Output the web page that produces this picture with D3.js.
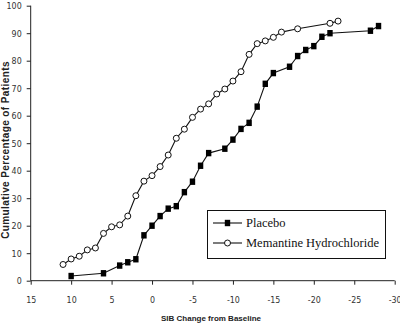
<!DOCTYPE html>
<html>
<head>
<meta charset="utf-8">
<script src="https://cdn.jsdelivr.net/npm/d3@7"></script>
<style>
  body { margin: 0; background: #fff; }
  .tick text { font-family: "Liberation Sans Narrow", "DejaVu Sans Condensed", sans-serif; font-size: 8.8px; fill: #333; }
  .title { font-family: "Liberation Sans", Arial, sans-serif; font-weight: bold; fill: #222; }
  .legend text { font-family: "Liberation Serif", "Times New Roman", serif; font-size: 12.5px; fill: #111; }
</style>
</head>
<body>
<svg width="400" height="327"></svg>
<script>
// SIB change (x) and cumulative percentage (y) for each arm
var placeboX = [10, 6, 4, 3, 2, 1, 0, -1, -2, -3, -4, -5, -6, -7, -9, -10, -11, -12, -13, -14, -15, -17, -18, -19, -20, -21, -22, -27, -28];
var placeboY = [1.7, 2.7, 5.5, 6.7, 7.8, 16.5, 20, 23.5, 26.2, 27.1, 32.2, 36, 41.8, 46.4, 48, 51.3, 55.2, 57.4, 63.3, 71.6, 75.5, 77.8, 81.7, 83.9, 85.3, 88.7, 90, 90.9, 92.6];

var memantineX = [11, 10, 9, 8, 7, 6, 5, 4, 3, 2, 1, 0, -1, -2, -3, -4, -5, -6, -7, -8, -9, -10, -11, -12, -13, -14, -15, -16, -18, -22, -23];
var memantineY = [5.9, 7.9, 8.9, 11.2, 11.9, 17.2, 19.6, 20.3, 23.5, 30.9, 36.2, 38.2, 41.5, 45.7, 51.8, 55.1, 59.4, 62.4, 64.3, 67.9, 69.7, 72.6, 76, 82.3, 86.2, 87.2, 88.5, 90.4, 91.6, 93.6, 94.4];

var xTicks = [15, 10, 5, 0, -5, -10, -15, -20, -25, -30];
var yTicks = [0, 10, 20, 30, 40, 50, 60, 70, 80, 90, 100];
var seriesNames = ["Placebo", "Memantine Hydrochloride"];

var svg = d3.select("svg"),
    margin = {top: 5.7, right: 5.3, bottom: 46.3, left: 30.7},
    width = +svg.attr("width") - (margin.left + margin.right),
    height = +svg.attr("height") - (margin.top + margin.bottom);

var x = d3.scaleLinear().domain([15, -30]).range([0, width]),
    y = d3.scaleLinear().domain([0, 100]).range([height, 0]);

var g = svg.append("g").attr("transform", "translate(" + margin.left + "," + margin.top + ")");

g.append("g")
    .attr("class", "axis axis-x")
    .attr("transform", "translate(0," + height + ")")
    .call(d3.axisBottom(x).tickValues(xTicks).tickSize(4).tickPadding(12).tickFormat(d3.format("d")));

g.append("g")
    .attr("class", "axis axis-y")
    .call(d3.axisLeft(y).tickValues(yTicks).tickSize(4).tickPadding(5));

g.selectAll(".axis path, .axis line").attr("stroke", "#222").attr("stroke-width", 1);
g.selectAll(".axis .domain").attr("d", function() {
    return d3.select(this.parentNode).classed("axis-x") ? "M0,0H" + width : "M0,0V" + height;
});
g.selectAll(".tick text").text(function(d) { return d < 0 ? "-" + (-d) : d; });

var line = d3.line()
    .x(function(d) { return x(d[0]); })
    .y(function(d) { return y(d[1]); });

var placebo = d3.zip(placeboX, placeboY),
    memantine = d3.zip(memantineX, memantineY);

g.append("path").datum(placebo)
    .attr("d", line).attr("fill", "none").attr("stroke", "#111").attr("stroke-width", 1.1);
g.append("path").datum(memantine)
    .attr("d", line).attr("fill", "none").attr("stroke", "#111").attr("stroke-width", 1.1);

g.selectAll(".sq")
    .data(placebo)
    .enter().append("rect")
    .attr("class", "sq")
    .attr("x", function(d) { return x(d[0]) - 2.7; })
    .attr("y", function(d) { return y(d[1]) - 3.2; })
    .attr("width", 5.4)
    .attr("height", 6.4)
    .attr("fill", "#000");

g.selectAll(".circ")
    .data(memantine)
    .enter().append("circle")
    .attr("class", "circ")
    .attr("cx", function(d) { return x(d[0]); })
    .attr("cy", function(d) { return y(d[1]); })
    .attr("r", 3)
    .attr("fill", "#fff")
    .attr("stroke", "#111")
    .attr("stroke-width", 1);

// axis titles
svg.append("text")
    .attr("class", "title")
    .attr("transform", "translate(8.5,150) rotate(-90)")
    .attr("text-anchor", "middle")
    .style("font-size", "10px")
    .style("letter-spacing", "0.4px")
    .text("Cumulative Percentage of Patients");

svg.append("text")
    .attr("class", "title")
    .attr("x", 211)
    .attr("y", 320.5)
    .attr("text-anchor", "middle")
    .style("font-size", "8px")
    .text("SIB Change from Baseline");

// legend
var legend = svg.append("g").attr("class", "legend");
legend.append("rect")
    .attr("x", 207.5).attr("y", 210.5)
    .attr("width", 178).attr("height", 48)
    .attr("fill", "#fff").attr("stroke", "#111").attr("stroke-width", 1);

seriesNames.forEach(function(name, i) {
    var ly = 223 + i * 20;
    legend.append("line")
        .attr("x1", 213).attr("x2", 242).attr("y1", ly).attr("y2", ly)
        .attr("stroke", "#111").attr("stroke-width", 1.1);
    if (i === 0) {
        legend.append("rect").attr("x", 224.8).attr("y", ly - 3.2).attr("width", 5.4).attr("height", 6.4).attr("fill", "#000");
    } else {
        legend.append("circle").attr("cx", 227.5).attr("cy", ly).attr("r", 3)
            .attr("fill", "#fff").attr("stroke", "#111");
    }
    legend.append("text")
        .attr("x", 246).attr("y", ly + 4.3)
        .text(name);
});
</script>
</body>
</html>
